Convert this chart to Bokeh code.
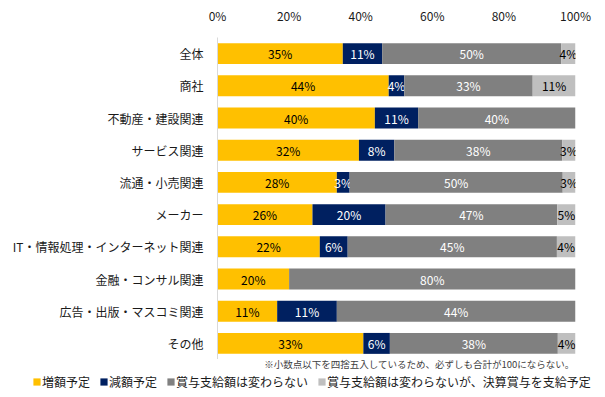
from bokeh.plotting import figure
from bokeh.layouts import column
from bokeh.models import (ColumnDataSource, Range1d, FactorRange, Legend, LegendItem,
                          Label, FixedTicker)
from bokeh.embed import file_html
from bokeh.resources import INLINE
from bokeh.core.properties import value

# ---- data ----
categories = ["全体", "商社", "不動産・建設関連", "サービス関連", "流通・小売関連", "メーカー",
              "IT・情報処理・インターネット関連", "金融・コンサル関連", "広告・出版・マスコミ関連", "その他"]
increase = [35, 44, 40, 32, 28, 26, 22, 20, 11, 33]
decrease = [11, 4, 11, 8, 3, 20, 6, 0, 11, 6]
unchanged = [50, 33, 40, 38, 50, 47, 45, 80, 44, 38]
settlement = [4, 11, 0, 3, 3, 5, 4, 0, 0, 4]
series_names = ["増額予定", "減額予定", "賞与支給額は変わらない", "賞与支給額は変わらないが、決算賞与を支給予定"]
x_ticks = [0, 20, 40, 60, 80, 100]
x_tick_labels = ["0%", "20%", "40%", "60%", "80%", "100%"]
note = "※小数点以下を四捨五入しているため、必ずしも合計が100にならない。"

# ---- style ----
FONT = "Noto Sans CJK JP"
colors = ["#FFC000", "#002060", "#808080", "#BFBFBF"]
label_colors = ["#000000", "#FFFFFF", "#FFFFFF", "#000000"]

p = figure(width=605, height=359,
           y_range=FactorRange(factors=categories[::-1]),
           x_range=Range1d(0, 100),
           x_axis_location="above",
           output_backend="svg", toolbar_location=None,
           min_border_left=217, min_border_right=30,
           min_border_top=37, min_border_bottom=0)
p.frame_align = False
p.outline_line_color = None
p.xgrid.visible = False
p.ygrid.visible = False

# ---- footer figure: footnote + legend (slightly overlapping, transparent) ----
f = figure(width=605, height=42, x_range=Range1d(0, 100),
           y_range=FactorRange(factors=categories[::-1]),
           x_axis_type=None, y_axis_type=None,
           output_backend="svg", toolbar_location=None,
           min_border_left=0, min_border_right=0, min_border_top=0, min_border_bottom=0)
f.frame_align = False
f.margin = (-4, 0, 0, 0)
f.outline_line_color = None
f.background_fill_alpha = 0
f.border_fill_alpha = 0
f.xgrid.visible = False
f.ygrid.visible = False

all_series = [increase, decrease, unchanged, settlement]
totals = [sum(v) for v in zip(*all_series)]
cum = [0.0] * len(categories)
legend_items = []
for name, vals, col, lcol in zip(series_names, all_series, colors, label_colors):
    left = [c for c in cum]
    right = [c + v / t * 100 for c, v, t in zip(cum, vals, totals)]
    cum = right
    src = ColumnDataSource(dict(y=categories, left=left, right=right))
    p.hbar(y="y", left="left", right="right", height=0.65, source=src,
           fill_color=col, line_color=None)
    # legend entry in the footer (same series, not drawn there)
    r = f.hbar(y="y", left="left", right="right", height=0.65, source=src,
               fill_color=col, line_color=None, visible=False)
    legend_items.append(LegendItem(label=name, renderers=[r]))
    keep = [i for i, v in enumerate(vals) if v > 0]
    lsrc = ColumnDataSource(dict(
        x=[(left[i] + right[i]) / 2 for i in keep],
        y=[categories[i] for i in keep],
        t=[f"{vals[i]}%" for i in keep]))
    p.text(x="x", y="y", text="t", source=lsrc, text_align="center", text_baseline="middle",
           text_font=value(FONT), text_font_size="12px", text_color=lcol)

# x axis (top)
xa = p.xaxis[0]
xa.ticker = FixedTicker(ticks=x_ticks)
xa.major_label_overrides = {t: l for t, l in zip(x_ticks, x_tick_labels)}
xa.axis_line_color = None
xa.major_tick_line_color = None
xa.minor_tick_line_color = None
xa.major_label_standoff = 8
xa.major_label_text_font = FONT
xa.major_label_text_font_size = "12px"
xa.major_label_text_color = "#1a1a1a"

# y axis (categories)
ya = p.yaxis[0]
ya.axis_line_color = "#D9D9D9"
ya.major_tick_line_color = None
ya.minor_tick_line_color = None
ya.major_label_standoff = 8
ya.major_label_text_font = FONT
ya.major_label_text_font_size = "12px"
ya.major_label_text_color = "#1a1a1a"

f.add_layout(Label(x=574, y=34, x_units="screen", y_units="screen",
                   text=note, text_align="right", text_baseline="middle",
                   text_font=FONT, text_font_size="9.5px", text_color="#404040"))

legend = Legend(items=legend_items, orientation="horizontal", location=(32, 7),
                glyph_width=9, glyph_height=9, label_standoff=1, spacing=9,
                padding=0, margin=0, label_height=14,
                label_text_font=FONT, label_text_font_size="12px", label_text_color="#1a1a1a",
                inactive_fill_alpha=0,
                border_line_alpha=0, background_fill_alpha=0)
f.add_layout(legend)

layout = column(p, f, spacing=0)
open("out.html", "w").write(file_html(layout, INLINE))
